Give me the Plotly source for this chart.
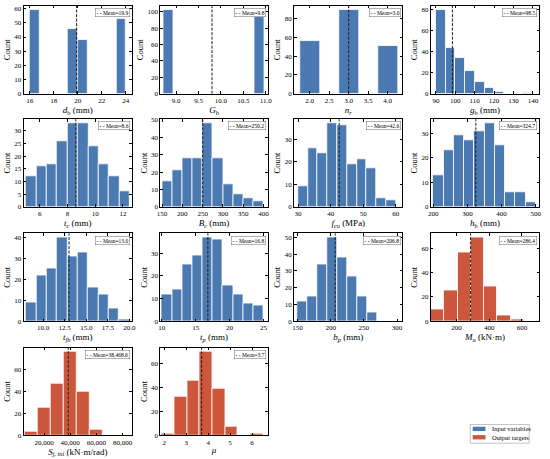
import plotly.graph_objects as go

W, H = 550, 459
BLUE = "#4B79B1"
ORANGE = "#CC573C"
FONT = "Liberation Serif"

# ---------------- data (bin edges and counts) ----------------
d_b_edges = [16.0, 16.8, 17.6, 18.4, 19.2, 20.0, 20.8, 21.6, 22.4, 23.2, 24.0]
d_b_counts = [59, 0, 0, 0, 46, 38, 0, 0, 0, 53]
d_b_mean = 19.9

G_b_edges = [8.72, 8.944, 9.168, 9.392, 9.616, 9.84, 10.064, 10.288, 10.512, 10.736, 10.96]
G_b_counts = [102, 0, 0, 0, 0, 0, 0, 0, 0, 94]
G_b_mean = 9.8

n_r_edges = [1.76, 2.26, 2.76, 3.26, 3.76, 4.26]
n_r_counts = [56, 0, 89, 0, 51]
n_r_mean = 3.0

g_b_edges = [90, 95, 100, 105, 110, 115, 120, 125, 130, 135, 140]
g_b_counts = [79, 43, 34, 21, 11, 5, 2, 0, 0, 1]
g_b_mean = 98.5

t_c_edges = [5.0, 5.75, 6.5, 7.25, 8.0, 8.75, 9.5, 10.25, 11.0, 11.75, 12.5]
t_c_counts = [12, 16, 17, 26, 33, 33, 24, 17, 12, 6]
t_c_mean = 8.6

B_c_edges = [150, 175, 200, 225, 250, 275, 300, 325, 350, 375, 400]
B_c_counts = [15, 21, 28, 28, 48, 28, 13, 7, 5, 3]
B_c_mean = 250.2

f_cu_edges = [30, 33, 36, 39, 42, 45, 48, 51, 54, 57, 60]
f_cu_counts = [9, 26, 24, 37, 36, 19, 21, 17, 4, 3]
f_cu_mean = 42.6

h_b_edges = [200, 230, 260, 290, 320, 350, 380, 410, 440, 470, 500]
h_b_counts = [13, 23, 29, 27, 31, 34, 25, 6, 6, 2]
h_b_mean = 324.7

t_fb_edges = [8.0, 9.2, 10.4, 11.6, 12.8, 14.0, 15.2, 16.4, 17.6, 18.8, 20.0]
t_fb_counts = [9, 22, 25, 40, 31, 33, 16, 13, 6, 1]
t_fb_mean = 13.0

t_p_edges = [10.0, 11.5, 13.0, 14.5, 16.0, 17.5, 19.0, 20.5, 22.0, 23.5, 25.0]
t_p_counts = [12, 14, 25, 29, 37, 36, 16, 12, 8, 7]
t_p_mean = 16.8

b_p_edges = [150, 165, 180, 195, 210, 225, 240, 255, 270]
b_p_counts = [12, 15, 34, 50, 38, 27, 15, 5]
b_p_mean = 206.8

M_u_edges = [44, 125, 206, 287, 368, 449, 530, 611]
M_u_counts = [10, 25, 57, 69, 29, 5, 1]
M_u_mean = 286.4

S_j_edges = [5000, 15000, 25000, 35000, 45000, 55000, 65000, 75000, 85000]
S_j_counts = [3, 25, 47, 76, 40, 5, 0, 0]
S_j_mean = 38468.6

mu_edges = [1.87, 2.45, 3.03, 3.61, 4.19, 4.77, 5.35, 5.93, 6.51]
mu_counts = [1, 32, 46, 70, 39, 7, 0, 1]
mu_mean = 3.7

# tick values
d_b_xt = [16, 18, 20, 22, 24]
G_b_xt = [9.0, 9.5, 10.0, 10.5, 11.0]
n_r_xt = [2.0, 2.5, 3.0, 3.5, 4.0]
g_b_xt = [90, 100, 110, 120, 130, 140]
t_c_xt = [6, 8, 10, 12]
B_c_xt = [150, 200, 250, 300, 350, 400]
f_cu_xt = [30, 40, 50, 60]
h_b_xt = [200, 300, 400, 500]
t_fb_xt = [10.0, 12.5, 15.0, 17.5, 20.0]
t_p_xt = [10, 15, 20, 25]
b_p_xt = [150, 200, 250, 300]
M_u_xt = [200, 400, 600]
S_j_xt = [20000, 40000, 60000, 80000]
mu_xt = [2, 3, 4, 5, 6]

legend_labels = ["Input variables", "Output targets"]

# ---------------- layout geometry (pixels) ----------------
cols_px = [(20, 130), (159, 268), (295, 405), (434, 544)]
rows_px = [(3, 92), (118, 207), (234, 323), (350, 439)]

panels = [
    dict(e=d_b_edges, c=d_b_counts, m=d_b_mean, ml="Mean=19.9", t="<i>d</i><sub>b</sub> (mm)",
         xr=[15.5, 24.5], xt=d_b_xt, fmt="", dy=10, col=BLUE),
    dict(e=G_b_edges, c=G_b_counts, m=G_b_mean, ml="Mean=9.8", t="<i>G</i><sub>b</sub>",
         xr=[8.65, 11.04], xt=G_b_xt, fmt=".1f", dy=20, col=BLUE),
    dict(e=n_r_edges, c=n_r_counts, m=n_r_mean, ml="Mean=3.0", t="<i>n</i><sub><i>r</i></sub>",
         xr=[1.6, 4.38], xt=n_r_xt, fmt=".1f", dy=20, col=BLUE),
    dict(e=g_b_edges, c=g_b_counts, m=g_b_mean, ml="Mean=98.5", t="<i>g</i><sub>b</sub> (mm)",
         xr=[87.4, 143.2], xt=g_b_xt, fmt="", dy=20, col=BLUE),
    dict(e=t_c_edges, c=t_c_counts, m=t_c_mean, ml="Mean=8.6", t="<i>t</i><sub><i>c</i></sub> (mm)",
         xr=[4.83, 12.65], xt=t_c_xt, fmt="", dy=5, col=BLUE),
    dict(e=B_c_edges, c=B_c_counts, m=B_c_mean, ml="Mean=250.2", t="<i>B</i><sub><i>c</i></sub> (mm)",
         xr=[146, 410], xt=B_c_xt, fmt="", dy=10, col=BLUE),
    dict(e=f_cu_edges, c=f_cu_counts, m=f_cu_mean, ml="Mean=42.6", t="<i>f</i><sub><i>cu</i></sub> (MPa)",
         xr=[28.8, 62.0], xt=f_cu_xt, fmt="", dy=10, col=BLUE),
    dict(e=h_b_edges, c=h_b_counts, m=h_b_mean, ml="Mean=324.7", t="<i>h</i><sub>b</sub> (mm)",
         xr=[193, 510], xt=h_b_xt, fmt="", dy=10, col=BLUE),
    dict(e=t_fb_edges, c=t_fb_counts, m=t_fb_mean, ml="Mean=13.0", t="<i>t</i><sub><i>fb</i></sub> (mm)",
         xr=[7.73, 20.3], xt=t_fb_xt, fmt=".1f", dy=10, col=BLUE),
    dict(e=t_p_edges, c=t_p_counts, m=t_p_mean, ml="Mean=16.8", t="<i>t</i><sub><i>p</i></sub> (mm)",
         xr=[9.8, 25.6], xt=t_p_xt, fmt="", dy=10, col=BLUE),
    dict(e=b_p_edges, c=b_p_counts, m=b_p_mean, ml="Mean=206.8", t="<i>b</i><sub><i>p</i></sub> (mm)",
         xr=[145, 308], xt=b_p_xt, fmt="", dy=10, col=BLUE),
    dict(e=M_u_edges, c=M_u_counts, m=M_u_mean, ml="Mean=286.4", t="<i>M</i><sub><i>u</i></sub> (kN·m)",
         xr=[44, 705], xt=M_u_xt, fmt="", dy=20, col=ORANGE),
    dict(e=S_j_edges, c=S_j_counts, m=S_j_mean, ml="Mean=38,468.6", t="<i>S</i><sub><i>j, ini</i></sub> (kN·m/rad)",
         xr=[4500, 87000], xt=S_j_xt, fmt=",", dy=20, col=ORANGE),
    dict(e=mu_edges, c=mu_counts, m=mu_mean, ml="Mean=3.7", t="<i>μ</i>",
         xr=[1.82, 6.71], xt=mu_xt, fmt="", dy=20, col=ORANGE),
]

fig = go.Figure()
shapes = []
annotations = []
layout = dict(
    width=W, height=H, margin=dict(l=0, r=0, t=0, b=0),
    paper_bgcolor="white", plot_bgcolor="white",
    font=dict(family=FONT, color="black", size=7),
    showlegend=False, bargap=0,
)

for i, p in enumerate(panels):
    n = i + 1
    r, cidx = divmod(i, 4)
    (xl, xrp), (yt, yb) = cols_px[cidx], rows_px[r]
    xa = "x" if n == 1 else f"x{n}"
    ya = "y" if n == 1 else f"y{n}"
    e, c = p["e"], p["c"]
    centers = [(e[k] + e[k + 1]) / 2 for k in range(len(c))]
    widths = [e[k + 1] - e[k] for k in range(len(c))]
    fig.add_trace(go.Bar(
        x=centers, y=c, width=widths, xaxis=xa, yaxis=ya,
        marker=dict(color=p["col"], line=dict(color="white", width=0.8)),
        name=legend_labels[0] if p["col"] == BLUE else legend_labels[1],
        showlegend=False,
    ))
    ymax = max(c) * 1.05
    axis_common = dict(
        showline=True, linecolor="black", linewidth=0.8, mirror="allticks",
        ticks="inside", ticklen=2.5, tickwidth=0.6, tickcolor="black",
        showgrid=False, zeroline=False, tickfont=dict(size=7, family=FONT),
    )
    layout["xaxis" if n == 1 else f"xaxis{n}"] = dict(
        domain=[xl / W, xrp / W], anchor=ya, range=p["xr"], tickvals=p["xt"],
        tickformat=p["fmt"],
        title=dict(text=p["t"], font=dict(size=9, family=FONT), standoff=1),
        **axis_common,
    )
    layout["yaxis" if n == 1 else f"yaxis{n}"] = dict(
        domain=[1 - yb / H, 1 - yt / H], anchor=xa, range=[0, ymax], dtick=p["dy"],
        title=dict(text="Count", font=dict(size=8.5, family=FONT), standoff=2),
        **axis_common,
    )
    # mean line
    shapes.append(dict(type="line", xref=xa, yref=f"{ya} domain", x0=p["m"], x1=p["m"],
                       y0=0, y1=1, line=dict(color="#1c1c1c", width=1, dash="3px,1.5px")))
    # mean legend box
    annotations.append(dict(
        xref=f"{xa} domain", yref=f"{ya} domain", x=0.985, y=0.975,
        xanchor="right", yanchor="top", showarrow=False,
        text="<b>- -</b> " + p["ml"], font=dict(size=5.5, family=FONT, color="black"),
        bgcolor="white", bordercolor="#666", borderwidth=0.5, borderpad=1,
    ))

# main legend (bottom right)
shapes.append(dict(type="rect", xref="paper", yref="paper",
                   x0=474 / W, x1=534 / W, y0=1 - 447 / H, y1=1 - 428 / H,
                   line=dict(color="#9a9a9a", width=0.6), fillcolor="white"))
for k, (col, lab) in enumerate(zip([BLUE, ORANGE], legend_labels)):
    yc = 432.5 + k * 8.5
    shapes.append(dict(type="rect", xref="paper", yref="paper",
                       x0=476.5 / W, x1=489.5 / W, y0=1 - (yc + 2.2) / H, y1=1 - (yc - 2.2) / H,
                       line=dict(width=0), fillcolor=col))
    annotations.append(dict(xref="paper", yref="paper", x=494 / W, y=1 - yc / H,
                            xanchor="left", yanchor="middle", showarrow=False, text=lab,
                            font=dict(size=6.5, family=FONT, color="black")))

layout["shapes"] = shapes
layout["annotations"] = annotations
fig.update_layout(**layout)
fig.write_html(
    "out.html",
    config={"displayModeBar": False},
    post_script="document.body.style.margin='0';document.body.style.padding='0';",
)
